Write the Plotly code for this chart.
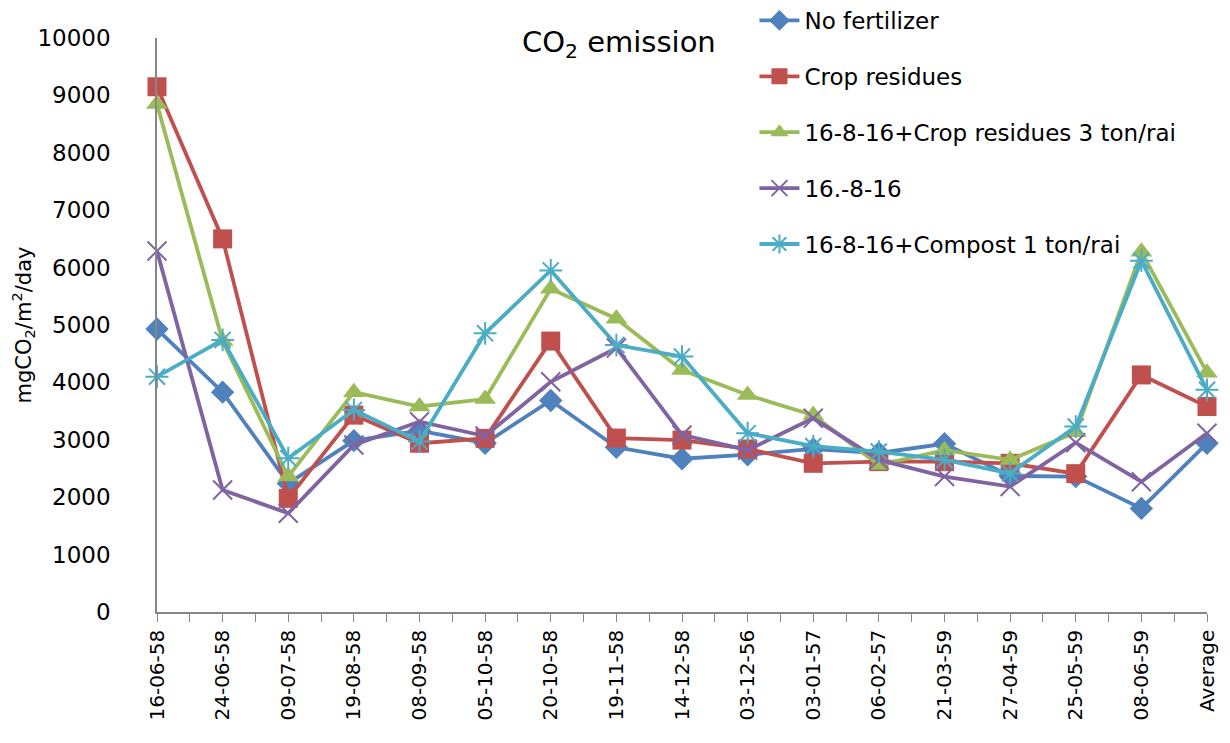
import plotly.graph_objects as go

dates = ["16-06-58", "24-06-58", "09-07-58", "19-08-58", "08-09-58", "05-10-58",
         "20-10-58", "19-11-58", "14-12-58", "03-12-56", "03-01-57", "06-02-57",
         "21-03-59", "27-04-59", "25-05-59", "08-06-59", "Average"]

no_fertilizer = [4930, 3830, 2240, 2985, 3160, 2940, 3685, 2870, 2670, 2740, 2840,
                 2770, 2930, 2370, 2360, 1805, 2940]
crop_residues = [9150, 6500, 1980, 3430, 2940, 3025, 4720, 3030, 2995, 2840, 2590,
                 2620, 2620, 2590, 2410, 4130, 3580]
npk_crop = [8850, 4720, 2360, 3830, 3580, 3710, 5630, 5110, 4215, 3780, 3430,
            2560, 2820, 2650, 3130, 6275, 4170]
npk = [6290, 2125, 1720, 2910, 3315, 3065, 4010, 4600, 3085, 2820, 3375,
       2650, 2360, 2185, 2950, 2270, 3115]
npk_compost = [4100, 4740, 2680, 3520, 2970, 4855, 5950, 4650, 4450, 3115, 2890,
               2795, 2650, 2415, 3230, 6120, 3870]

names = ["No fertilizer", "Crop residues", "16-8-16+Crop residues 3 ton/rai",
         "16.-8-16", "16-8-16+Compost 1 ton/rai"]
series = [no_fertilizer, crop_residues, npk_crop, npk, npk_compost]
colors = ["#4F81BD", "#C0504D", "#9BBB59", "#8064A2", "#4BACC6"]
symbols = ["diamond", "square", "triangle-up", "x-thin-open", "asterisk-open"]
sizes = [18, 19, 19, 19, 19]

xpos = list(range(len(dates)))

fig = go.Figure()
for i, (nm, vals) in enumerate(zip(names, series)):
    open_sym = symbols[i].endswith("open")
    fig.add_trace(go.Scatter(
        x=xpos, y=vals, name=nm, mode="lines+markers",
        legendgroup=f"g{i}",
        line=dict(color=colors[i], width=3.8),
        marker=dict(symbol=symbols[i], size=sizes[i], color=colors[i],
                    line=dict(color=colors[i], width=2 if open_sym else 0)),
        cliponaxis=False,
    ))

font_family = "DejaVu Sans"

# the page body adds an 8px offset, so the figure is sized/margined to compensate
fig.update_layout(
    width=1222, height=735,
    margin=dict(l=149, r=23, t=30, b=131, autoexpand=False),
    paper_bgcolor="white", plot_bgcolor="white",
    font=dict(family=font_family, color="#000000"),
    showlegend=True,
    legend=dict(
        x=0.569, y=1.068, xanchor="left", yanchor="top",
        font=dict(size=23, family=font_family),
        traceorder="grouped", tracegroupgap=23,
        bgcolor="rgba(0,0,0,0)", itemwidth=40,
    ),
    annotations=[dict(
        text="CO<sub>2</sub> emission", x=0.44, y=0.99, xref="paper", yref="paper",
        xanchor="center", yanchor="middle", showarrow=False,
        font=dict(size=29, family=font_family),
    )],
)

fig.update_xaxes(
    range=[0, len(dates) - 1], automargin=False,
    tickmode="array", tickvals=xpos, ticktext=dates, tickangle=-90,
    tickfont=dict(size=20, family=font_family),
    showline=True, linecolor="#868686", linewidth=1.5,
    ticks="outside", ticklen=8, tickcolor="#868686", tickwidth=1,
    minor=dict(dtick=0.5, tick0=0, ticks="outside", ticklen=8, tickcolor="#868686"),
    showgrid=False, zeroline=False,
)

fig.update_yaxes(
    range=[0, 10000], dtick=1000, tickformat="d", automargin=False,
    tickfont=dict(size=23, family=font_family),
    ticklabelstandoff=40,
    showline=True, linecolor="#868686", linewidth=1.5,
    ticks="", showgrid=False, zeroline=False,
    title=dict(text="mgCO<sub>2</sub>/m<sup>2</sup>/day",
               font=dict(size=21, family=font_family), standoff=2),
)

fig.write_html("out.html")
